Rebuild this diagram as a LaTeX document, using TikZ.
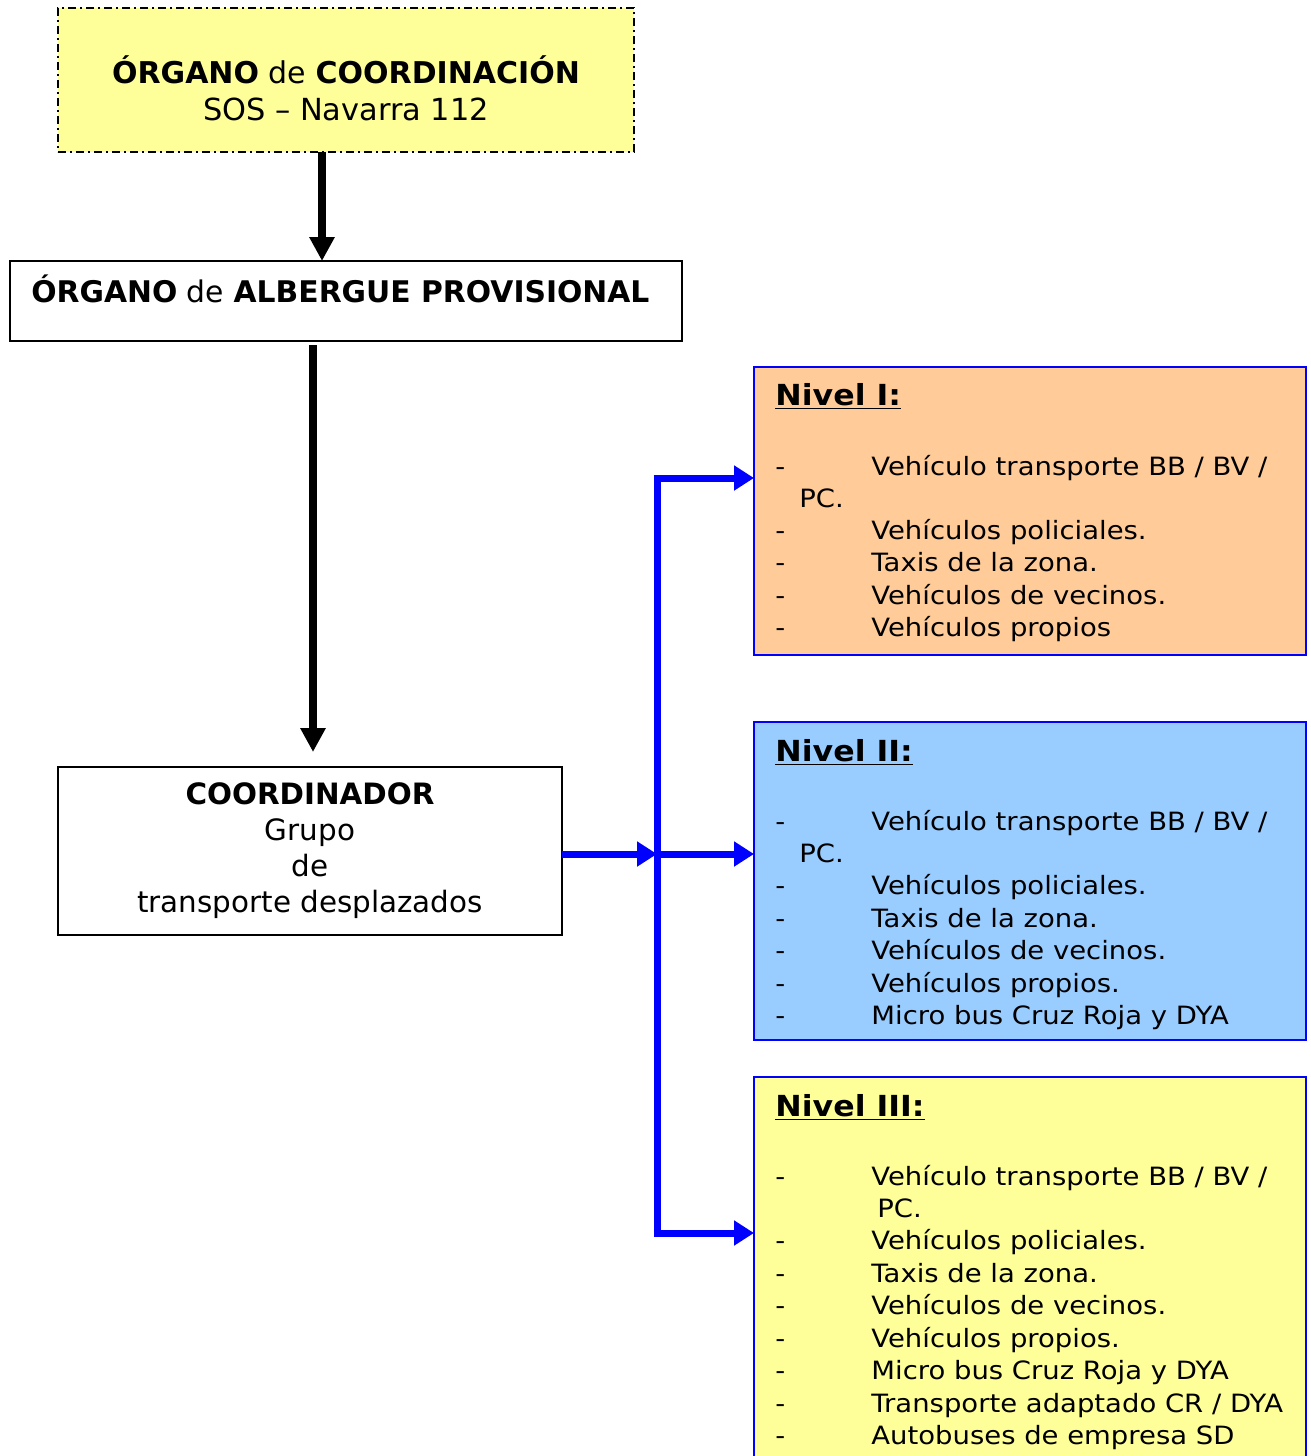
\documentclass[tikz,border=0pt]{standalone}
\usepackage{fontspec}
\setmainfont{DejaVu Sans}
\newfontfamily\widefont[FakeStretch=1.09]{DejaVu Sans}
\usetikzlibrary{arrows.meta}
\definecolor{ylw}{HTML}{FFFF99}
\definecolor{org}{HTML}{FFCC99}
\definecolor{sky}{HTML}{99CCFF}
\definecolor{blu}{HTML}{0000FF}
\begin{document}
\begin{tikzpicture}[x=0.5pt,y=-0.5pt,
  box/.style={draw=black,line width=1pt,inner sep=0pt,outer sep=0pt},
  nbox/.style={draw=blu,line width=1pt,inner sep=0pt,outer sep=0pt,anchor=north west},
  itm/.style={anchor=base west,inner sep=0pt,font=\widefont\fontsize{12.6}{15}\selectfont},
  hd/.style={anchor=base west,inner sep=0pt,font=\widefont\fontsize{14.5}{17}\selectfont\bfseries},
  blk/.style={line width=4pt,-{Triangle[width=12pt,length=12pt]}},
  bl/.style={draw=blu,line width=3.5pt},
  bla/.style={bl,-{Triangle[width=12pt,length=10pt]}}]
\useasboundingbox (0,0) rectangle (1311,1456);
\clip (0,0) rectangle (1311,1456);
% top box
\node[box,fill=ylw,dash pattern=on 4pt off 2pt on 1pt off 2pt,minimum width=288pt,minimum height=72pt] (top) at (346,80) {};
\node[inner sep=0pt,anchor=base,font=\fontsize{15}{18}\selectfont] (t1) at (346,83) {\textbf{ÓRGANO} de \textbf{COORDINACIÓN}};
\node[inner sep=0pt,anchor=base,font=\fontsize{15.2}{18}\selectfont] (t2) at (346,120) {SOS – Navarra 112};
% albergue
\node[box,fill=white,minimum width=336pt,minimum height=40pt] (alb) at (346,301) {};
\node[inner sep=0pt,anchor=base west,font=\fontsize{14.9}{17}\selectfont] (a1) at (31,302) {\textbf{ÓRGANO} de \textbf{ALBERGUE PROVISIONAL}};
% coordinador
\node[box,fill=white,minimum width=252pt,minimum height=84pt,align=center,font=\fontsize{14.7}{18}\selectfont] (coord) at (310,851) {\textbf{COORDINADOR}\\Grupo\\de\\transporte desplazados};
% nivel boxes
\node[nbox,fill=org,minimum width=276pt,minimum height=144pt] (n1) at (754,367) {};
\node[nbox,fill=sky,minimum width=276pt,minimum height=159pt] (n2) at (754,722) {};
\node[nbox,fill=ylw,minimum width=276pt,minimum height=200pt] (n3) at (754,1077) {};
% arrows black
\draw[blk] ([xshift=-12pt]top.south) -- ([xshift=-12pt]alb.north);
\draw[blk,shorten >=7.5pt] ([xshift=-16.5pt,yshift=-2pt]alb.south) -- (313,767);
% blue connectors
\coordinate (jT) at (657,478);
\coordinate (jM) at (657,854);
\coordinate (jB) at (657,1233);
\draw[bl] (jB) -- (jT);
\draw[bla] ([xshift=-1.75pt]jT) -- (jT -| n1.west);
\draw[bla] (jM) -- (jM -| n2.west);
\draw[bla] ([xshift=-1.75pt]jB) -- (jB -| n3.west);
\draw[bla] (coord.east |- jM) -- (jM);
% Nivel I text
\node[hd] (h1) at (775,405) {\underline{Nivel I:}};
\foreach \y/\d/\t [count=\i] in {475/-/{Vehículo transporte BB / BV /},539/-/{Vehículos policiales.},571/-/{Taxis de la zona.},604/-/{Vehículos de vecinos.},636/-/{Vehículos propios}}{
  \node[itm] (d1\i) at (775,\y) {\d};
  \node[itm] (e1\i) at (871,\y) {\t};
}
\node[itm] (p1) at (799,507) {PC.};
% Nivel II text
\node[hd] (h2) at (775,761) {\underline{Nivel II:}};
\foreach \y/\d/\t [count=\i] in {830/-/{Vehículo transporte BB / BV /},894/-/{Vehículos policiales.},927/-/{Taxis de la zona.},959/-/{Vehículos de vecinos.},992/-/{Vehículos propios.},1024/-/{Micro bus Cruz Roja y DYA}}{
  \node[itm] (d2\i) at (775,\y) {\d};
  \node[itm] (e2\i) at (871,\y) {\t};
}
\node[itm] (p2) at (799,862) {PC.};
% Nivel III text
\node[hd] (h3) at (775,1116) {\underline{Nivel III:}};
\foreach \y/\d/\t [count=\i] in {1185/-/{Vehículo transporte BB / BV /},1249/-/{Vehículos policiales.},1282/-/{Taxis de la zona.},1314/-/{Vehículos de vecinos.},1347/-/{Vehículos propios.},1379/-/{Micro bus Cruz Roja y DYA},1412/-/{Transporte adaptado CR / DYA},1444/-/{Autobuses de empresa SD}}{
  \node[itm] (d3\i) at (775,\y) {\d};
  \node[itm] (e3\i) at (871,\y) {\t};
}
\node[itm] (p3) at (877,1217) {PC.};
\end{tikzpicture}
\end{document}
